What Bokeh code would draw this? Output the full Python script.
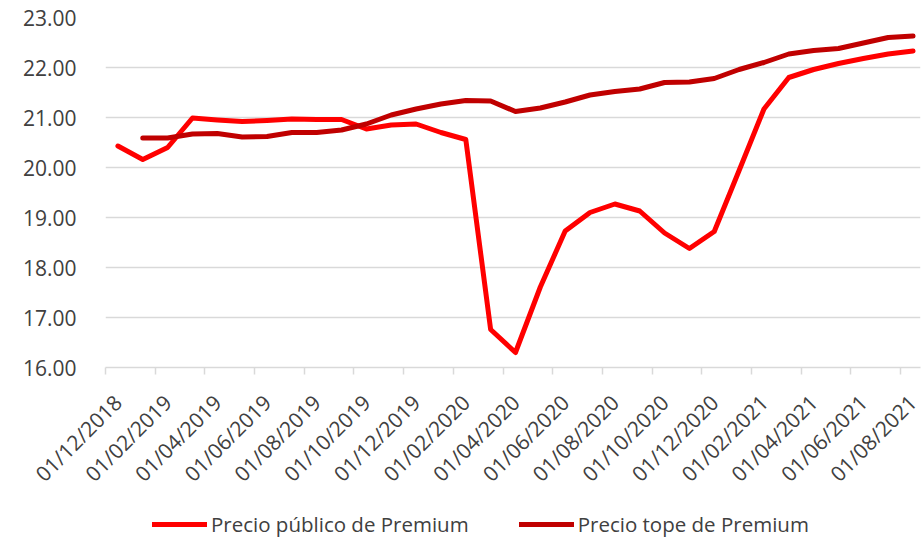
from bokeh.plotting import figure
from bokeh.layouts import column
from bokeh.models import Range1d, FixedTicker, Legend, LegendItem, ColumnDataSource
from bokeh.embed import file_html
from bokeh.resources import INLINE
import math

months = ["12/2018","01/2019","02/2019","03/2019","04/2019","05/2019","06/2019","07/2019","08/2019","09/2019","10/2019","11/2019",
          "12/2019","01/2020","02/2020","03/2020","04/2020","05/2020","06/2020","07/2020","08/2020","09/2020","10/2020","11/2020",
          "12/2020","01/2021","02/2021","03/2021","04/2021","05/2021","06/2021","07/2021","08/2021"]

precio_publico = [20.43, 20.16, 20.40, 20.99, 20.95, 20.92, 20.94, 20.97, 20.96, 20.96, 20.77, 20.85,
                  20.87, 20.70, 20.56, 16.76, 16.30, 17.61, 18.73, 19.10, 19.27, 19.13, 18.69, 18.38,
                  18.72, 19.94, 21.17, 21.80, 21.96, 22.08, 22.18, 22.27, 22.33]

precio_tope = [float("nan"), 20.59, 20.59, 20.67, 20.68, 20.61, 20.62, 20.70, 20.70, 20.75, 20.87, 21.05,
               21.17, 21.27, 21.34, 21.33, 21.12, 21.19, 21.31, 21.45, 21.52, 21.57, 21.70, 21.71,
               21.78, 21.96, 22.10, 22.27, 22.34, 22.38, 22.49, 22.60, 22.63]

series_names = ["Precio público de Premium", "Precio tope de Premium"]

tick_labels = ["01/12/2018","01/02/2019","01/04/2019","01/06/2019","01/08/2019","01/10/2019","01/12/2019",
               "01/02/2020","01/04/2020","01/06/2020","01/08/2020","01/10/2020","01/12/2020",
               "01/02/2021","01/04/2021","01/06/2021","01/08/2021"]

y_ticks = [16, 17, 18, 19, 20, 21, 22, 23]

FONT = "Open Sans"
GRID = "#D9D9D9"
TEXT = "#404040"
COLORS = ["#FF0000", "#C00000"]

x = list(range(len(months)))
src = ColumnDataSource(dict(x=x, pub=precio_publico, tope=precio_tope))

p = figure(frame_width=815, frame_height=350, output_backend="svg", toolbar_location=None,
           x_range=Range1d(-0.5, 32.3), y_range=Range1d(16, 23),
           min_border_left=105, min_border_right=2, min_border_top=17, min_border_bottom=143)
p.outline_line_color = None

p.line("x", "pub", source=src, line_color=COLORS[0], line_width=5, line_cap="round", line_join="round")
p.line("x", "tope", source=src, line_color=COLORS[1], line_width=5, line_cap="round", line_join="round")

# labels sit at the labelled month, tick marks at month boundaries
label_pos = [i * 2 for i in range(len(tick_labels))]
boundary_pos = [i * 2 - 0.5 for i in range(len(tick_labels))]
p.xaxis.ticker = FixedTicker(ticks=label_pos, minor_ticks=boundary_pos)
p.xaxis.major_label_overrides = {t: lab for t, lab in zip(label_pos, tick_labels)}
p.xaxis.major_label_orientation = math.pi / 4
p.xaxis.axis_line_color = GRID
p.xaxis.axis_line_width = 1.5
p.xaxis.major_tick_line_color = None
p.xaxis.major_tick_out = 0
p.xaxis.major_tick_in = 0
p.xaxis.minor_tick_line_color = GRID
p.xaxis.minor_tick_line_width = 1.5
p.xaxis.minor_tick_out = 7
p.xaxis.minor_tick_in = 0
p.xaxis.major_label_text_font = FONT
p.xaxis.major_label_text_font_size = "21px"
p.xaxis.major_label_text_color = TEXT
p.xaxis.major_label_standoff = 24

p.yaxis.ticker = FixedTicker(ticks=y_ticks)
p.yaxis.major_label_overrides = {v: f"{v:.2f}" for v in y_ticks}
p.yaxis.axis_line_color = None
p.yaxis.major_tick_line_color = None
p.yaxis.minor_tick_line_color = None
p.yaxis.major_tick_out = 0
p.yaxis.major_tick_in = 0
p.yaxis.major_label_standoff = 29
p.yaxis.major_label_text_font = FONT
p.yaxis.major_label_text_font_size = "21px"
p.yaxis.major_label_text_color = TEXT

p.xgrid.grid_line_color = None
p.ygrid.grid_line_color = GRID
p.ygrid.grid_line_width = 1.5

# legend strip below the chart; its key lines use the same series, clipped out of view
lg = figure(width=922, height=31, output_backend="svg", toolbar_location=None,
            min_border=0, x_range=Range1d(0, 1), y_range=Range1d(0, 1))
lg.axis.visible = False
lg.grid.grid_line_color = None
lg.outline_line_color = None
keys = [lg.line("x", col, source=src, line_color=c, line_width=5, line_cap="round")
        for col, c in zip(["pub", "tope"], COLORS)]
legend = Legend(items=[LegendItem(label=n, renderers=[k]) for n, k in zip(series_names, keys)],
                orientation="horizontal", location=(47, 3),
                label_text_font=FONT, label_text_font_size="20.5px", label_text_color=TEXT,
                glyph_width=55, glyph_height=20, label_standoff=4, spacing=50,
                border_line_color=None, background_fill_alpha=0, margin=0, padding=0)
lg.add_layout(legend)

layout = column(p, lg, spacing=0)
open("out.html", "w").write(file_html(layout, INLINE))
